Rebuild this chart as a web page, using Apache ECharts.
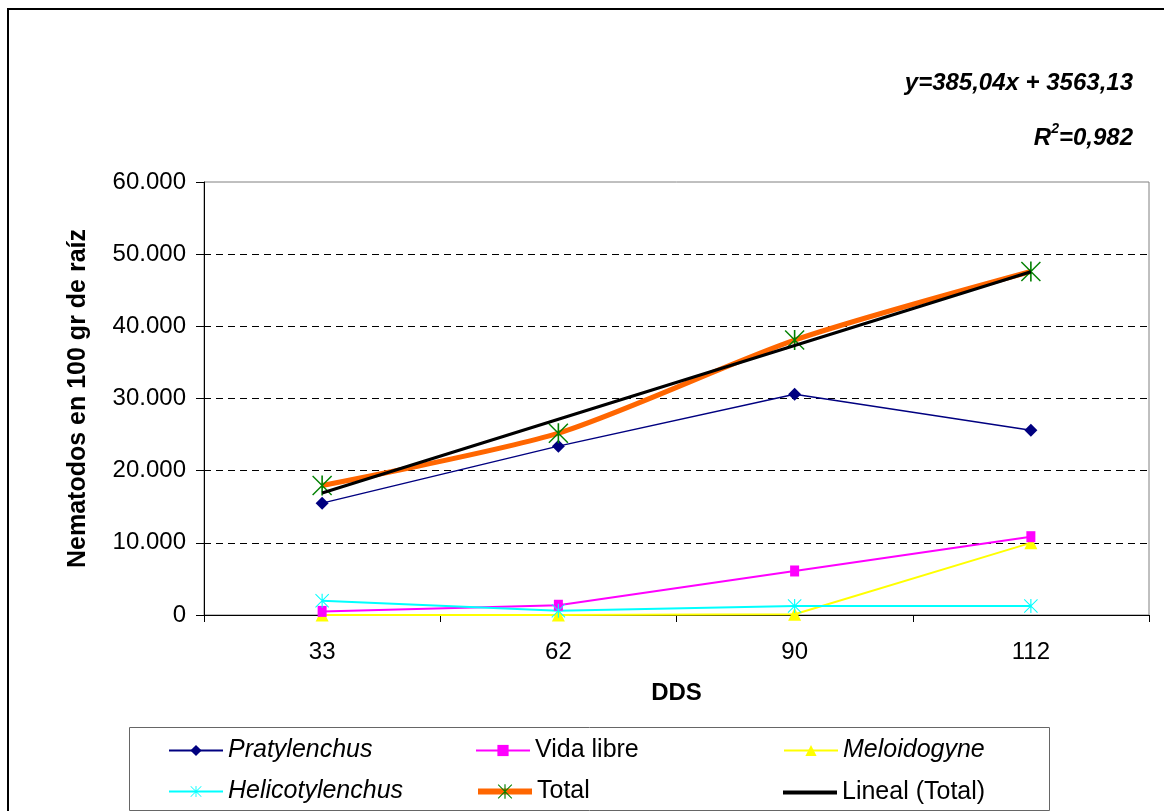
<!DOCTYPE html>
<html><head><meta charset="utf-8">
<script src="https://cdn.jsdelivr.net/npm/echarts@6/dist/echarts.min.js"></script>
<style>html,body{margin:0;padding:0;background:#fff;}#c{width:1164px;height:811px;}</style>
</head><body><div id="c"></div>
<script>
const categories = ['33', '62', '90', '112'];
const pratylenchus = [15500, 23400, 30600, 25600];
const vidaLibre = [500, 1350, 6100, 10850];
const meloidogyne = [0, 0, 100, 10000];
const helicotylenchus = [1980, 600, 1250, 1250];
const total = [17950, 25200, 38100, 47600];
const linealTotal = [16900, 27120, 37350, 47570];
const yTicks = { min: 0, max: 60000, interval: 10000 };

const FONT = '"Liberation Sans", Arial, sans-serif';
const star = 'path://M9.2 0 L10.8 0 L10.8 20 L9.2 20 Z M0 1 L1 0 L20 19 L19 20 Z M19 0 L20 1 L1 20 L0 19 Z';

const chart = echarts.init(document.getElementById('c'), null, { renderer: 'canvas' });

function mkLegend(name, left, top, italic, extra) {
  return Object.assign({
    data: [name], left: left, top: top, itemWidth: 54, itemHeight: 14, itemGap: 0,
    textStyle: { fontFamily: FONT, fontSize: 25, color: '#000', fontStyle: italic ? 'italic' : 'normal' },
    selectedMode: false
  }, extra || {});
}

chart.setOption({
  animation: false,
  backgroundColor: '#fff',
  grid: { left: 204, top: 182, right: 15, bottom: 196, show: true, borderColor: '#808080', borderWidth: 1, backgroundColor: '#fff' },
  xAxis: {
    type: 'category', data: categories, boundaryGap: true,
    name: 'DDS', nameLocation: 'middle', nameGap: 66,
    nameTextStyle: { fontFamily: FONT, fontSize: 24, fontWeight: 'bold', color: '#000' },
    axisLine: { lineStyle: { color: '#000', width: 1 } },
    axisTick: { show: true, length: 7, alignWithLabel: false, lineStyle: { color: '#000' } },
    axisLabel: { fontFamily: FONT, fontSize: 24, color: '#000', margin: 25 },
    splitLine: { show: false }
  },
  yAxis: {
    type: 'value', min: yTicks.min, max: yTicks.max, interval: yTicks.interval,
    name: 'Nematodos en 100 gr de raíz', nameLocation: 'middle', nameGap: 113, nameRotate: 90,
    nameTextStyle: { fontFamily: FONT, fontSize: 25, fontWeight: 'bold', color: '#000' },
    axisLine: { show: true, lineStyle: { color: '#000', width: 1 } },
    axisTick: { show: true, length: 8, lineStyle: { color: '#000' } },
    axisLabel: { fontFamily: FONT, fontSize: 24, color: '#000', margin: 18,
      formatter: v => v === 0 ? '0' : (v / 1000).toFixed(0) + '.000' },
    splitLine: { show: true, showMinLine: false, showMaxLine: false, lineStyle: { color: '#000', type: [7, 5], width: 1 } }
  },
  legend: [
    mkLegend('Pratylenchus', 163, 733, true, { lineStyle: { width: 2 } }),
    mkLegend('Vida libre', 470, 733, false, { lineStyle: { width: 2 } }),
    mkLegend('Meloidogyne', 778, 733, true, { lineStyle: { width: 2 } }),
    mkLegend('Helicotylenchus', 163, 774, true, { lineStyle: { width: 2 } }),
    mkLegend('Total', 470, 774, false, { itemHeight: 18, lineStyle: { width: 6 } }),
    mkLegend('Lineal (Total)', 778, 775, false, { data: [{ name: 'Lineal (Total)', icon: 'path://M0 0 L54 0 L54 4 L0 4 Z' }], itemHeight: 4 })
  ],
  graphic: [
    { type: 'rect', shape: { x: 8, y: 9, width: 1300, height: 900 }, style: { fill: 'none', stroke: '#000', lineWidth: 2 }, z: -10, silent: true },
    { type: 'rect', shape: { x: 129.5, y: 727.5, width: 920, height: 83 }, style: { fill: '#fff', stroke: '#666', lineWidth: 1 }, z: -5, silent: true },
    { type: 'text', right: 31, top: 71, style: { text: 'y=385,04x + 3563,13', font: 'italic bold 24px ' + FONT, fill: '#000' } },
    { type: 'text', right: 31, top: 122, style: {
        text: '{b|R}{s|2}{b|=0,982}', fill: '#000',
        rich: { b: { font: 'italic bold 24px ' + FONT, fill: '#000', verticalAlign: 'bottom' },
                s: { font: 'italic bold 14px ' + FONT, fill: '#000', verticalAlign: 'top', padding: [0, 0, 14, 0] } } } }
  ],
  series: [
    { name: 'Pratylenchus', type: 'line', data: pratylenchus, symbol: 'diamond', symbolSize: 13,
      itemStyle: { color: '#000080' }, lineStyle: { color: '#000080', width: 1.5 }, z: 3 },
    { name: 'Vida libre', type: 'line', data: vidaLibre, symbol: 'rect', symbolSize: [9, 11],
      itemStyle: { color: '#FF00FF' }, lineStyle: { color: '#FF00FF', width: 2 }, z: 3 },
    { name: 'Meloidogyne', type: 'line', data: meloidogyne, symbol: 'triangle', symbolSize: 13,
      itemStyle: { color: '#FFFF00' }, lineStyle: { color: '#FFFF00', width: 2 }, z: 2 },
    { name: 'Helicotylenchus', type: 'line', data: helicotylenchus, symbol: star, symbolSize: 14,
      itemStyle: { color: '#00FFFF' }, lineStyle: { color: '#00FFFF', width: 2 }, z: 3 },
    { name: 'Total', type: 'line', data: total, symbol: star, symbolSize: 20, smooth: 0.25,
      itemStyle: { color: '#008000' }, lineStyle: { color: '#FF6600', width: 5 }, z: 4 },
    { name: 'Lineal (Total)', type: 'line', data: linealTotal, symbol: 'none', showSymbol: false,
      itemStyle: { color: '#000' }, lineStyle: { color: '#000', width: 3 }, z: 5 }
  ]
});
</script></body></html>
